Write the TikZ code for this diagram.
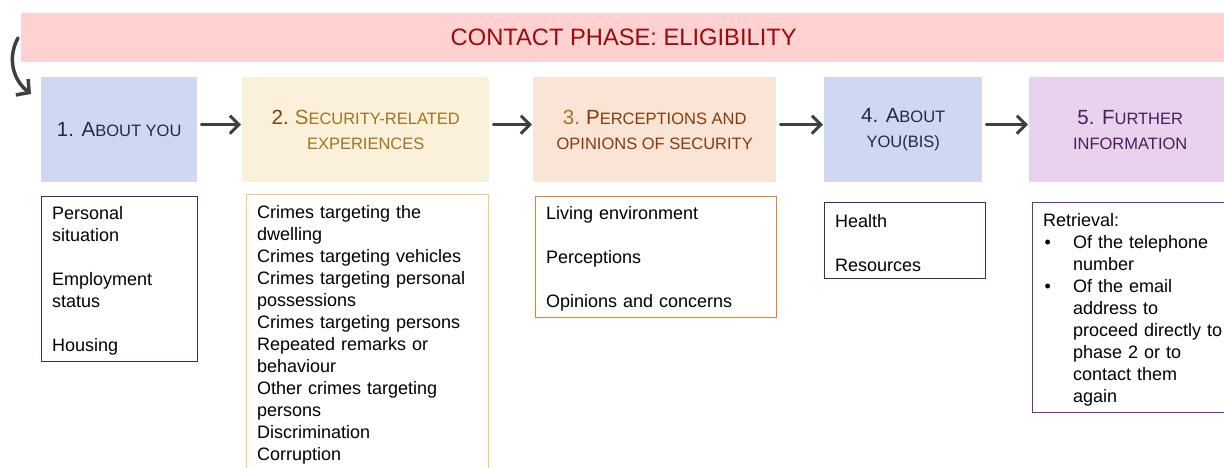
\documentclass[tikz,border=0pt]{standalone}
\usepackage{fontspec}
\setmainfont{Liberation Sans}
\usetikzlibrary{arrows.meta}

\definecolor{titlefill}{HTML}{FFD1D1}
\definecolor{titletext}{HTML}{990A0A}
\definecolor{bluefill}{HTML}{CFD8F0}
\definecolor{navytext}{HTML}{1F2A4A}
\definecolor{navyline}{HTML}{203864}
\definecolor{sandfill}{HTML}{FBF0DA}
\definecolor{goldtext}{HTML}{9E7520}
\definecolor{goldline}{HTML}{F7CB70}
\definecolor{peachfill}{HTML}{FAE4D5}
\definecolor{browntext}{HTML}{843C0C}
\definecolor{orangeline}{HTML}{ED7D31}
\definecolor{lilacfill}{HTML}{E8D2EE}
\definecolor{plumtext}{HTML}{4B1E5A}
\definecolor{purpleline}{HTML}{7030A0}
\definecolor{arrowgray}{HTML}{404040}

% large initial letters of the small-caps headings
\newcommand\capL[1]{{\fontsize{20.5}{25}\selectfont #1}}

\tikzset{
  header/.style={anchor=north west, inner sep=0pt, align=center,
    minimum height=105pt, font=\fontsize{16.5}{25}\selectfont},
  listbox/.style={anchor=north west, draw, line width=1.3pt,
    inner xsep=10.5pt, inner ysep=0pt, align=left,
    font=\fontsize{18}{22}\selectfont,
    execute at begin node={\rule{0pt}{17pt}}},
  flow/.style={draw=arrowgray, line width=3pt,
    -{Straight Barb[length=9pt,width=18pt]}, line cap=round,
    shorten <=4pt, shorten >=1pt}
}

\begin{document}
\begin{tikzpicture}[x=1pt, y=-1pt]
\clip (0,0) rectangle (1224,467);
\fill[white] (0,0) rectangle (1224,467);

% title bar
\node[anchor=north west, fill=titlefill, minimum width=1205pt,
  minimum height=49pt, inner sep=0pt, text=titletext,
  font=\fontsize{23.7}{28}\selectfont] (title) at (21,13)
  {CONTACT PHASE: ELIGIBILITY};

% entry arrow
\coordinate (cs) at (18,38);
\coordinate (ce) at (31,94);
\draw[draw=arrowgray, line width=3.5pt, line cap=round,
  -{Straight Barb[length=9pt,width=20pt]}]
  (cs) .. controls (7,58) and (13,80) .. (ce);

% section headings
\node[header, fill=bluefill, minimum width=156pt, text=navytext] (h1) at (41,77)
  {\capL{1. A}BOUT YOU};
\node[header, fill=sandfill, minimum width=247pt, text=goldtext] (h2) at (242,77)
  {{\color{browntext}\capL{2.}} \capL{S}ECURITY-RELATED\\EXPERIENCES};
\node[header, fill=peachfill, minimum width=243pt, text=browntext] (h3) at (533,77)
  {{\color{goldtext}\capL{3.}} \capL{P}ERCEPTIONS AND\\OPINIONS OF SECURITY};
\node[header, fill=bluefill, minimum width=158pt, text=navytext] (h4) at (824,77)
  {\capL{4. A}BOUT\\YOU(BIS)};
\node[header, fill=lilacfill, minimum width=202pt, text=plumtext] (h5) at (1029,77)
  {\capL{5. F}URTHER\\INFORMATION};

% arrows between headings
\draw[flow] ([yshift=5pt]h1.east) -- ([yshift=5pt]h2.west);
\draw[flow] ([yshift=5pt]h2.east) -- ([yshift=5pt]h3.west);
\draw[flow] ([yshift=5pt]h3.east) -- ([yshift=5pt]h4.west);
\draw[flow] ([yshift=5pt]h4.east) -- ([yshift=5pt]h5.west);

% topic lists
\node[listbox, draw=navyline, text width=135pt, minimum height=165pt] (l1) at (41,196)
  {Personal\\situation\\[22pt]Employment\\status\\[22pt]Housing};
\node[listbox, draw=goldline, text width=221pt, minimum height=277pt] (l2) at (246,194)
  {Crimes targeting the\\dwelling\\Crimes targeting vehicles\\Crimes targeting personal\\possessions\\Crimes targeting persons\\Repeated remarks or\\behaviour\\Other crimes targeting\\persons\\Discrimination\\Corruption};
\node[listbox, draw=orangeline, text width=220pt, minimum height=121pt] (l3) at (535,196)
  {Living environment\\[22pt]Perceptions\\[22pt]Opinions and concerns};
\node[listbox, draw=navyline, text width=140pt, minimum height=76pt] (l4) at (824,202)
  {Health\\[22pt]Resources};
\node[listbox, draw=purpleline, text width=185pt, minimum height=210pt] (l5) at (1032,202)
  {Retrieval:\\
   \makebox[30pt][l]{\hspace{1.5pt}•}Of the telephone\\
   \hspace*{30pt}number\\
   \makebox[30pt][l]{\hspace{1.5pt}•}Of the email\\
   \hspace*{30pt}address to\\
   \hspace*{30pt}proceed directly to\\
   \hspace*{30pt}phase 2 or to\\
   \hspace*{30pt}contact them\\
   \hspace*{30pt}again};
\end{tikzpicture}
\end{document}
